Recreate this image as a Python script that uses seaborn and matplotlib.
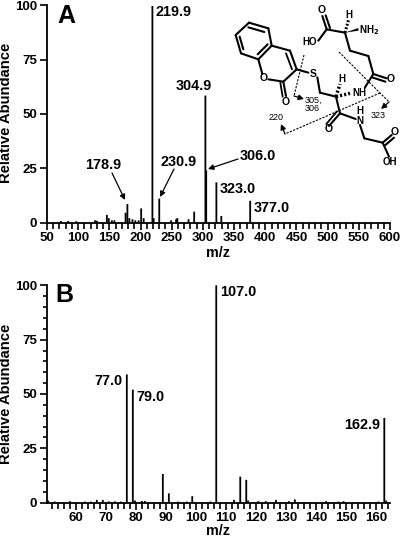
import matplotlib
matplotlib.use("Agg")
import matplotlib.pyplot as plt
import seaborn as sns
from matplotlib.ticker import MultipleLocator

# spectrum A
mz_a = [72.4, 84, 97, 127, 130, 146, 149, 154, 158, 176, 178.9, 182, 187, 191.6, 197, 201, 205,
        219, 221, 230, 249, 257, 259, 277, 286, 304, 305.3, 321.6, 329.5, 375.8]
ab_a = [0.7, 0.7, 0.6, 1, 0.8, 3.5, 2, 1, 1, 4.5, 8.5, 2, 1.5, 1, 1, 6.5, 2,
        100, 2, 11, 1, 1.5, 2, 1.5, 5, 58.5, 24, 18.5, 3, 10]
labels_a = ["219.9", "304.9", "178.9", "230.9", "306.0", "323.0", "377.0"]

# spectrum B
mz_b = [50.8, 53, 58, 63, 65, 67, 69, 71, 73, 75, 77, 79, 79.7, 82, 83, 89, 91, 94, 97, 98.8,
        104.8, 106.8, 112.7, 114.8, 116.8, 117.4, 120.8, 123.3, 126.7, 131, 133, 143.4, 147.5,
        149.2, 160.8, 162.8, 163.4]
ab_b = [1, 0.5, 0.7, 0.5, 0.5, 1.3, 1.3, 0.6, 0.6, 0.5, 59, 52, 1, 0.8, 0.8, 13.2, 4.3, 0.5, 0.5, 3,
        0.5, 100, 1.3, 12, 10.5, 1, 0.7, 0.7, 1.3, 0.7, 1.5, 0.7, 0.5,
        0.7, 0.5, 39, 1]
labels_b = ["77.0", "79.0", "107.0", "162.9"]

y_ticks = [0, 25, 50, 75, 100]
font = "Liberation Sans"

sns.set_style("ticks")
plt.rcParams["font.family"] = [font, "DejaVu Sans"]
plt.rcParams["font.weight"] = "bold"

W, H = 400, 538
fig = plt.figure(figsize=(W / 100, H / 100), dpi=100)


def panel(top, bottom, mz, ab, xlim, major, minor, bar_w, y_minor):
    left, right = 47, 390
    ax = fig.add_axes([left / W, 1 - bottom / H, (right - left) / W, (bottom - top) / H])
    sns.barplot(x=mz, y=ab, native_scale=True, color="black", saturation=1, linewidth=0, ax=ax)
    # seaborn sizes native bars from the closest pair, spectra want a fixed stem width
    for bar in ax.patches:
        mid = bar.get_x() + bar.get_width() / 2
        bar.set_width(bar_w)
        bar.set_x(mid - bar_w / 2)
        bar.set_snap(False)
    ax.set_xlim(*xlim)
    ax.set_ylim(0, 100)
    ax.set_yticks(y_ticks)
    ax.xaxis.set_major_locator(MultipleLocator(major))
    ax.xaxis.set_minor_locator(MultipleLocator(minor))
    if y_minor:
        ax.yaxis.set_minor_locator(MultipleLocator(y_minor))
    ax.tick_params(axis="both", which="major", length=5, width=1.2, color="black",
                   labelsize=9.5, pad=2, labelcolor="black")
    ax.tick_params(axis="x", which="minor", length=4.5, width=1.2, color="black")
    ax.tick_params(axis="y", which="minor", length=3, width=1.2, color="black")
    for s in ["left", "bottom"]:
        ax.spines[s].set_linewidth(1.3)
        ax.spines[s].set_color("black")
    sns.despine(ax=ax)
    ax.set_facecolor("none")
    return ax


panel(5.5, 222.5, mz_a, ab_a, (50, 600), 50, 10, 2.9, None)
ax_b = panel(285.3, 502.7, mz_b, ab_b, (50.4, 164.7), 10, 2, 0.6, 5)

# overlay in image pixels for the annotation and the structure
ov = fig.add_axes([0, 0, 1, 1])
ov.set_xlim(0, W)
ov.set_ylim(H, 0)
ov.axis("off")
ov.patch.set_alpha(0)


def txt(x, y, s, size=10.4, weight="bold", **kw):
    ov.text(x, y, s, fontsize=size, fontweight=weight, ha="center", va="center",
            color="black", **kw)


def arrow(x0, y0, x1, y1):
    ov.annotate("", xy=(x1, y1), xytext=(x0, y0),
                arrowprops=dict(arrowstyle="-|>", color="black", lw=0.9, mutation_scale=8,
                                shrinkA=0, shrinkB=0))


txt(66, 16, "A", 18)
txt(64, 295, "B", 18)
for (x, y), s in zip([(174, 12), (194, 86), (103, 165), (179, 162), (258, 156), (238, 189), (272, 208)], labels_a):
    txt(x, y, s)
for (x, y), s in zip([(108, 381), (150, 397), (238, 292), (362, 425)], labels_b):
    txt(x, y, s)
arrow(112, 173, 125, 200)
arrow(174, 169, 160, 197)
arrow(238, 159, 208, 169)
txt(218, 253, "m/z", 10.4)
txt(218, 531, "m/z", 10.4)
txt(6.5, 113, "Relative Abundance", 10.6, rotation=90)
txt(6.5, 394, "Relative Abundance", 10.6, rotation=90)


# structure, coordinates taken from the 3x crop starting at x=225
def px(p):
    return 225 + p[0] / 3, p[1] / 3


def bond(a, b, lw=1.5, **kw):
    (x0, y0), (x1, y1) = px(a), px(b)
    ov.plot([x0, x1], [y0, y1], color="black", lw=lw, solid_capstyle="round", **kw)


ring = [(72, 68), (130, 85), (140, 137), (100, 178), (48, 160), (32, 105)]
for i in range(6):
    bond(ring[i], ring[(i + 1) % 6])
bond((70, 82), (118, 96))
bond((128, 133), (98, 163))
bond((55, 148), (44, 110))
C3, C4 = (215, 208), (195, 152)
bond((140, 137), C4)
bond(C4, C3)
bond((183, 160), (201, 208), lw=1.3)
bond(C3, (175, 245))
bond((175, 245), (130, 238))
bond((100, 178), (112, 222))
bond((175, 245), (183, 288))
bond((166, 248), (173, 290), lw=1.3)
bond(C3, (250, 218))
bond((277, 232), (285, 278))
bond((285, 278), (333, 290))
bond((333, 290), (345, 340))
bond((345, 340), (312, 378))
bond((336, 334), (304, 372), lw=1.3)
bond((345, 340), (392, 357))
bond((405, 375), (418, 415))
bond((418, 415), (473, 428))
bond((473, 428), (500, 405))
bond((480, 436), (507, 413))
bond((473, 428), (492, 470))
bond((333, 290), (375, 280), ls=(0, (0.6, 0.6)), lw=2.5)
bond((333, 290), (345, 252), ls=(0, (0.6, 0.6)), lw=2.5)
# glutamate side
bond((280, 122), (305, 88))
bond((305, 88), (292, 48))
bond((315, 84), (302, 46))
bond((305, 88), (360, 98))
bond((360, 98), (371, 58), ls=(0, (0.6, 0.6)), lw=2.2)
ov.fill([225 + 360 / 3, 225 + 400 / 3, 225 + 400 / 3], [98 / 3, 84 / 3, 92 / 3], color="black", lw=0)
bond((360, 98), (375, 152))
bond((375, 152), (430, 168))
bond((430, 168), (445, 222))
bond((445, 222), (485, 235))
bond((441, 232), (481, 245))
bond((445, 222), (420, 262))

for x, y, s, size in [(290, 30, "O", 7.5), (373, 44, "H", 7), (432, 90, "NH$_2$", 7), (255, 125, "HO", 7),
                      (117, 235, "O", 7.5), (183, 305, "O", 7.5), (265, 222, "S", 7.5), (350, 237, "H", 7),
                      (403, 278, "NH", 7), (497, 238, "O", 7.5), (310, 388, "O", 7.5), (405, 364, "N", 7),
                      (405, 332, "H", 7), (510, 395, "O", 7.5), (495, 485, "OH", 7)]:
    x0, y0 = px((x, y))
    txt(x0, y0, s, size)

# fragmentation lines
dash = dict(color="black", lw=0.8, ls=(0, (2, 1.2)))
ov.plot([304, 294], [55, 96], **dash)
arrow(294, 96, 304, 99)
ov.plot([339, 389], [52, 102], **dash)
arrow(389, 102, 381, 109)
ov.plot([380, 285], [93, 134], **dash)
arrow(285, 134, 281, 124)
txt(313, 100, "305,", 6.5, "normal")
txt(312, 108.5, "306", 6.5, "normal")
txt(378, 116, "323", 6.5, "normal")
txt(276, 118, "220", 6.5, "normal")

fig.savefig("out.png", dpi=100)
